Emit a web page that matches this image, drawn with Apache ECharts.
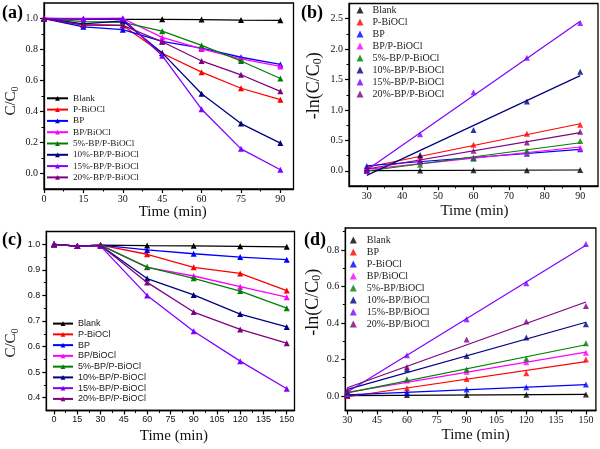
<!DOCTYPE html>
<html><head><meta charset="utf-8">
<script src="https://cdn.jsdelivr.net/npm/echarts@6/dist/echarts.min.js"></script>
<style>html,body{margin:0;padding:0;background:#fff}#c{width:600px;height:449px}</style>
</head><body><div id="c"></div>
<script>
// ---------- data ----------
const colors = ['#000000','#ff0000','#0000ff','#ff00ff','#008000','#000080','#8000ff','#800080'];

// panel (a)
const namesA = ['Blank','P-BiOCl','BP','BP/BiOCl','5%-BP/P-BiOCl','10%-BP/P-BiOCl','15%-BP/P-BiOCl','20%-BP/P-BiOCl'];
const timeA = [0,15,30,45,60,75,90];
const aBlank = [1.0,0.995,0.995,0.995,0.993,0.99,0.988];
const aPBiOCl = [1.0,0.96,0.955,0.776,0.654,0.55,0.476];
const aBP = [1.0,0.946,0.928,0.852,0.809,0.75,0.704];
const aBPBiOCl = [1.0,1.0,1.0,0.878,0.804,0.739,0.691];
const a5 = [1.0,0.98,0.975,0.918,0.826,0.726,0.613];
const a10 = [1.0,0.965,0.985,0.778,0.515,0.322,0.196];
const a15 = [1.0,0.998,1.0,0.76,0.415,0.159,0.024];
const a20 = [1.0,0.958,0.956,0.85,0.726,0.637,0.53];
const ticksAX = [0,15,30,45,60,75,90];
const ticksAY = [0,0.2,0.4,0.6,0.8,1.0];

// panel (b)
const namesB = ['Blank','P-BiOCl','BP','BP/P-BiOCl','5%-BP/P-BiOCl','10%-BP/P-BiOCl','15%-BP/P-BiOCl','20%-BP/P-BiOCl'];
const timeB = [30,45,60,75,90];
const bBlank = [0.0,0.005,0.008,0.01,0.012];
const bPBiOCl = [0.05,0.236,0.428,0.61,0.757];
const bBP = [0.08,0.16,0.21,0.28,0.356];
const bBPP = [0.0,0.14,0.22,0.30,0.378];
const b5 = [0.025,0.1,0.2,0.33,0.49];
const b10 = [0.02,0.26,0.67,1.14,1.63];
const b15 = [0.0,0.6,1.29,1.86,2.43];
const b20 = [0.04,0.17,0.33,0.466,0.64];
const ticksBX = [30,40,50,60,70,80,90];
const ticksBY = [0,0.5,1.0,1.5,2.0,2.5];

// panel (c)
const namesC = ['Blank','P-BiOCl','BP','BP/BiOCl','5%-BP/P-BiOCl','10%-BP/P-BiOCl','15%-BP/P-BiOCl','20%-BP/P-BiOCl'];
const timeC = [0,15,30,60,90,120,150];
const cBlank = [1.0,0.993,0.997,0.995,0.994,0.992,0.99];
const cPBiOCl = [1.0,0.993,0.997,0.961,0.91,0.886,0.819];
const cBP = [1.0,0.993,0.997,0.978,0.963,0.95,0.94];
const cBPBiOCl = [1.0,0.993,0.997,0.91,0.876,0.834,0.793];
const c5 = [1.0,0.993,0.997,0.911,0.867,0.817,0.75];
const c10 = [1.0,0.993,0.995,0.866,0.802,0.727,0.677];
const c15 = [1.0,0.993,0.993,0.8,0.66,0.543,0.435];
const c20 = [1.0,0.993,0.995,0.851,0.735,0.667,0.613];
const ticksCX = [0,15,30,45,60,75,90,105,120,135,150];
const ticksCY = [0.4,0.5,0.6,0.7,0.8,0.9,1.0];

// panel (d)
const namesD = ['Blank','BP','P-BiOCl','BP/BiOCl','5%-BP/BiOCl','10%-BP/BiOCl','15%-BP/BiOCl','20%-BP/BiOCl'];
const timeD = [30,60,90,120,150];
const dBlank = [0.0,0.005,0.005,0.006,0.008];
const dBP = [0.0,0.042,0.093,0.124,0.2];
const dPBiOCl = [0.005,0.02,0.035,0.047,0.062];
const dBPBiOCl = [0.01,0.085,0.133,0.184,0.236];
const d5 = [0.015,0.091,0.144,0.203,0.289];
const d10 = [0.02,0.146,0.219,0.32,0.393];
const d15 = [0.025,0.223,0.42,0.617,0.833];
const d20 = [0.03,0.159,0.309,0.407,0.493];
const ticksDX = [30,45,60,75,90,105,120,135,150];
const ticksDY = [0,0.2,0.4,0.6,0.8];

// ---------- helpers ----------
const SERIF = '"Liberation Serif","Times New Roman",serif';
const SANS = '"Liberation Sans",Arial,sans-serif';
function mids(arr, lo, hi){
  const step = arr[1]-arr[0], out=[];
  for (let v = arr[0]-step/2; v <= arr[arr.length-1]+step/2+1e-9; v += step){
    if (v > lo+1e-9 && v < hi-1e-9) out.push(+v.toFixed(4));
  }
  return out;
}
function axes(dim, gi, min, max, labels, dec, font, fsize, name, nameGap, namePad){
  const main = {
    type:'value', gridIndex:gi, min:min, max:max,
    position: dim==='x'?'bottom':'left',
    splitLine:{show:false},
    axisLine:{show:true, onZero:false, lineStyle:{color:'#000', width:1.3}},
    axisTick:{show:true, inside:false, length:4, lineStyle:{color:'#000', width:1.2}, customValues:labels},
    axisLabel:{show:true, customValues:labels, margin:dim==='x'?5:6, color:'#111', fontFamily:font, fontSize:fsize,
      formatter: v => v.toFixed(dec)},
    name:name, nameLocation:'middle', nameGap:nameGap,
    nameRotate: dim==='y'?90:0,
    nameTextStyle:{color:'#111', fontFamily:SERIF, fontSize:15, padding:namePad,
      rich:{m:{fontFamily:SERIF,fontSize:15,lineHeight:18,color:'#111'},
            s:{fontFamily:SERIF,fontSize:10,lineHeight:10,verticalAlign:'bottom',color:'#111'},
            L:{fontFamily:SERIF,fontSize:18,lineHeight:20,color:'#111'},
            S:{fontFamily:SERIF,fontSize:12,lineHeight:12,verticalAlign:'bottom',color:'#111'}}}
  };
  const minor = {
    type:'value', gridIndex:gi, min:min, max:max,
    position: dim==='x'?'bottom':'left',
    splitLine:{show:false},
    axisLine:{show:false, onZero:false},
    axisTick:{show:true, inside:false, length:2.5, lineStyle:{color:'#000', width:1}, customValues:mids(labels,min,max)},
    axisLabel:{show:false}
  };
  return [main, minor];
}
function fit(xs, ys){
  const n = xs.length;
  const mx = xs.reduce((s,v)=>s+v,0)/n, my = ys.reduce((s,v)=>s+v,0)/n;
  let sxy=0, sxx=0;
  for (let i=0;i<n;i++){ sxy += (xs[i]-mx)*(ys[i]-my); sxx += (xs[i]-mx)*(xs[i]-mx); }
  const b = sxy/sxx, a = my-b*mx;
  return x => a+b*x;
}
const zip = (xs, ys) => xs.map((x,i)=>[x, ys[i]]);

const xAxis = [], yAxis = [];
xAxis.push(...axes('x',0,0,95,ticksAX,0,SERIF,10,'Time (min)',15,[0,0,0,8]));
yAxis.push(...axes('y',0,-0.1,1.1,ticksAY,1,SERIF,10,'{m|C/C}{s|0}',24,[0,10,0,0]));
xAxis.push(...axes('x',1,25,95,ticksBX,0,SERIF,10,'Time (min)',18,[0,0,0,2]));
yAxis.push(...axes('y',1,-0.25,2.75,ticksBY,1,SERIF,10,'{L|-ln(C/C}{S|0}{L|)}',25,[0,0,0,18]));
xAxis.push(...axes('x',2,-5,155,ticksCX,0,SANS,9,'Time (min)',18,[0,0,0,7]));
yAxis.push(...axes('y',2,0.35,1.05,ticksCY,1,SANS,9,'{m|C/C}{s|0}',26,[0,44,0,0]));
xAxis.push(...axes('x',3,29,155,ticksDX,0,SERIF,10,'Time (min)',17,[0,0,0,10]));
yAxis.push(...axes('y',3,-0.08,0.92,ticksDY,1,SERIF,10,'{L|-ln(C/C}{S|0}{L|)}',22,[0,0,0,34]));

const grid = [
  {left:44, top:3, width:249.5, height:186},
  {left:349, top:3.5, width:249, height:182.5},
  {left:46.3, top:231.5, width:248.2, height:179},
  {left:345.3, top:228, width:250.6, height:182.5}
].map(g => Object.assign(g, {show:true, borderColor:'#000', borderWidth:1.3, backgroundColor:'transparent'}));

const series = [];
function lineSeries(names, tag, xs, arrs, gi){
  arrs.forEach((ys,i)=>{
    series.push({type:'line', name:names[i]+'#'+tag, xAxisIndex:gi*2, yAxisIndex:gi*2,
      data:zip(xs,ys), symbol:'triangle', symbolSize:6, showSymbol:true,
      itemStyle:{color:colors[i]}, lineStyle:{color:colors[i], width:1.3}, z:2+i});
  });
}
function fitSeries(names, tag, xs, arrs, gi){
  arrs.forEach((ys,i)=>{
    const f = fit(xs, ys);
    const x0 = xs[0], x1 = xs[xs.length-1];
    series.push({type:'line', name:'fit'+i+'#'+tag, xAxisIndex:gi*2, yAxisIndex:gi*2,
      data:[[x0,f(x0)],[x1,f(x1)]], symbol:'none', lineStyle:{color:colors[i], width:1.2}, z:2});
  });
  arrs.forEach((ys,i)=>{
    series.push({type:'scatter', name:names[i]+'#'+tag, xAxisIndex:gi*2, yAxisIndex:gi*2,
      data:zip(xs,ys), symbol:'triangle', symbolSize:6, itemStyle:{color:colors[i]}, z:5});
  });
}
lineSeries(namesA,'a',timeA,[aBlank,aPBiOCl,aBP,aBPBiOCl,a5,a10,a15,a20],0);
fitSeries(namesB,'b',timeB,[bBlank,bPBiOCl,bBP,bBPP,b5,b10,b15,b20],1);
lineSeries(namesC,'c',timeC,[cBlank,cPBiOCl,cBP,cBPBiOCl,c5,c10,c15,c20],2);
fitSeries(namesD,'d',timeD,[dBlank,dBP,dPBiOCl,dBPBiOCl,d5,d10,d15,d20],3);

function legend(names, tag, left, top, iw, ih, gap, lh, font, fs, pad){
  return {data:names.map(n=>n+'#'+tag), formatter:n=>n.split('#')[0], orient:'vertical',
    left:left, top:top, itemWidth:iw, itemHeight:ih, itemGap:gap, padding:0, selectedMode:false,
    textStyle:{fontFamily:font, fontSize:fs, lineHeight:lh, color:'#1a1a1a', padding:[0,0,0,pad]}};
}
const legends = [
  legend(namesA,'a',46,92.8,21,6,0.3,11,SERIF,9.2,0),
  legend(namesB,'b',356.5,4,7,7,0,12,SERIF,10,4),
  legend(namesC,'c',52,318.6,20,6,0.76,10,SANS,9,0),
  legend(namesD,'d',349.8,234,7,7,0,12,SERIF,10,5)
];

const lbl = (t,x,y) => ({type:'text', left:x, top:y, style:{text:t, font:'bold 18px '+SERIF, fill:'#000'}});

const chart = echarts.init(document.getElementById('c'), null, {renderer:'canvas'});
chart.setOption({
  animation:false, backgroundColor:'#fff',
  grid:grid, xAxis:xAxis, yAxis:yAxis, series:series, legend:legends,
  graphic:[lbl('(a)',2,4), lbl('(b)',301,4), lbl('(c)',2,231), lbl('(d)',304,231)]
});
</script></body></html>
